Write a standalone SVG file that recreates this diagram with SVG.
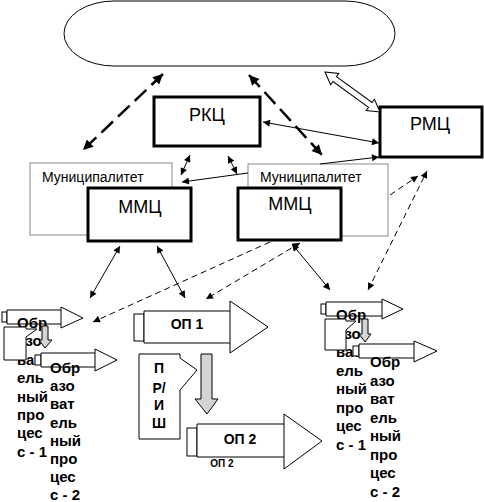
<svg xmlns="http://www.w3.org/2000/svg" width="484" height="502" viewBox="0 0 484 502">
<style>
text{font-family:"Liberation Sans",Arial,sans-serif;fill:#000}
.box{fill:#fff;stroke:#000;stroke-width:3}
.muni{fill:#fff;stroke:#888;stroke-width:1}
.lbl{font-size:18px}
.mlbl{font-size:14px}
.b{font-weight:bold}
.proc{font-size:15px;font-weight:bold}
.blk{fill:#fff;stroke:#000;stroke-width:1}
.gray{fill:#d4d4d4;stroke:#000;stroke-width:1}
.ln{fill:none;stroke:#000;stroke-width:1}
.dash{fill:none;stroke:#000;stroke-width:1;stroke-dasharray:6 4}
.thick{fill:none;stroke:#000;stroke-width:2.5;stroke-dasharray:16 7}
</style>
<defs>
<marker id="a" viewBox="0 0 10 10" refX="10" refY="5" markerWidth="9" markerHeight="7" markerUnits="userSpaceOnUse" orient="auto-start-reverse"><path d="M0,0 L10,5 L0,10 z" fill="#000"/></marker>
<marker id="A" viewBox="0 0 10 10" refX="10" refY="5" markerWidth="13" markerHeight="10" markerUnits="userSpaceOnUse" orient="auto-start-reverse"><path d="M0,0 L10,5 L0,10 z" fill="#000"/></marker>
</defs>

<g id="top-ellipse">
<rect x="64" y="1" width="331" height="65" rx="50" ry="32.5" fill="#fff" stroke="#000" stroke-width="1"/>
</g>

<g id="muni-left">
<rect class="muni" x="30" y="163" width="142" height="72"/>
<text class="mlbl" x="42" y="182">Муниципалитет</text>
</g>
<g id="muni-right">
<rect class="muni" x="248" y="164" width="140" height="72"/>
<text class="mlbl" x="260" y="182">Муниципалитет</text>
</g>
<g id="mmc-left">
<rect class="box" x="88" y="188" width="103" height="53"/>
<text class="lbl" x="140" y="213" text-anchor="middle">ММЦ</text>
</g>
<g id="mmc-right">
<rect class="box" x="238" y="188" width="103" height="52"/>
<text class="lbl" x="290" y="210" text-anchor="middle">ММЦ</text>
</g>
<g id="rkc">
<rect class="box" x="154" y="97" width="106" height="49"/>
<text class="lbl" x="207" y="121" text-anchor="middle">РКЦ</text>
</g>
<g id="rmc">
<rect class="box" x="380" y="107" width="102" height="50"/>
<text class="lbl" x="430" y="130" text-anchor="middle">РМЦ</text>
</g>

<g id="connectors">
<line class="thick" x1="163" y1="74" x2="83" y2="150" marker-start="url(#A)" marker-end="url(#A)"/>
<line class="thick" x1="249" y1="75" x2="322" y2="155" marker-start="url(#A)" marker-end="url(#A)"/>
<polygon transform="translate(325,72) rotate(36)" points="0,0 12,-7 12,-3 56,-3 56,-7 68,0 56,7 56,3 12,3 12,7" fill="#fff" stroke="#000" stroke-width="1"/>
<line class="ln" x1="263" y1="122" x2="379" y2="143" marker-start="url(#a)" marker-end="url(#a)"/>
<line class="ln" x1="320" y1="164" x2="379" y2="157" marker-end="url(#a)"/>
<line class="ln" x1="190" y1="155" x2="181" y2="175" marker-start="url(#a)" marker-end="url(#a)"/>
<line class="ln" x1="228" y1="156" x2="237" y2="174" marker-start="url(#a)" marker-end="url(#a)"/>
<line class="ln" x1="248" y1="173" x2="182" y2="182" marker-end="url(#a)"/>
<line class="dash" x1="390" y1="195" x2="418" y2="176" marker-end="url(#a)"/>
<line class="dash" x1="368" y1="290" x2="427" y2="171" marker-start="url(#a)" marker-end="url(#a)"/>
<line class="ln" x1="120" y1="246" x2="90" y2="298" marker-start="url(#a)" marker-end="url(#a)"/>
<line class="ln" x1="157" y1="246" x2="185" y2="298" marker-start="url(#a)" marker-end="url(#a)"/>
<line class="dash" x1="270" y1="242" x2="93" y2="322" marker-end="url(#a)"/>
<line class="dash" x1="300" y1="243" x2="206" y2="299" marker-start="url(#a)" marker-end="url(#a)"/>
<line class="ln" x1="292" y1="244" x2="330" y2="290" marker-start="url(#a)" marker-end="url(#a)"/>
</g>

<g id="op1">
<rect class="blk" x="134" y="314" width="10" height="27"/>
<polygon class="blk" points="144,311 230,311 230,301 268,327 230,353 230,343 144,343"/>
<line class="ln" x1="230" y1="311" x2="230" y2="343"/>
<text class="b" x="187" y="329" font-size="14" text-anchor="middle">ОП 1</text>
</g>
<g id="prish">
<polygon class="blk" points="139,354 180,354 180,358 197,370 180,390 180,439 139,439"/>
<text class="b" font-size="14" text-anchor="middle"><tspan x="159" y="373">П</tspan><tspan x="159" y="393">Р/</tspan><tspan x="159" y="410">И</tspan><tspan x="159" y="428">Ш</tspan></text>
</g>
<g id="down-arrow">
<polygon class="gray" points="201,354 212,354 212,399 218,399 207,414 195,399 201,399"/>
</g>
<g id="op2">
<rect class="blk" x="187" y="428" width="10" height="28"/>
<polygon class="blk" points="197,424 284,424 284,414 322,441 284,469 284,457 197,457"/>
<line class="ln" x1="284" y1="424" x2="284" y2="457"/>
<text class="b" x="240" y="444" font-size="14" text-anchor="middle">ОП 2</text>
<text class="b" x="222" y="467" font-size="10" text-anchor="middle">ОП 2</text>
</g>

<g id="process-left">
<rect class="blk" x="2" y="312" width="5" height="10"/>
<polygon class="blk" points="7,310 61,310 61,307 83,318 61,328 61,324 7,324"/>
<line class="ln" x1="61" y1="310" x2="61" y2="324"/>
<text class="proc"><tspan x="17" y="328">Обр</tspan><tspan x="17" y="346.4">азо</tspan><tspan x="17" y="364.8">ват</tspan><tspan x="17" y="383.2">ель</tspan><tspan x="17" y="401.6">ный</tspan><tspan x="17" y="420">про</tspan><tspan x="17" y="438.4">цес</tspan><tspan x="17" y="456.8">с - 1</tspan></text>
<polygon class="blk" points="4,327 26,327 26,329 37,329 26,337 26,360 4,360"/>
<polygon class="gray" points="42,326 48,326 48,340 52,340 45,348 39,340 42,340"/>
<rect class="blk" x="35" y="355" width="6" height="10"/>
<polygon class="blk" points="41,353 95,353 95,349 117,360 95,371 95,367 41,367"/>
<line class="ln" x1="95" y1="353" x2="95" y2="367"/>
<text class="proc"><tspan x="50" y="373">Обр</tspan><tspan x="50" y="391.2">азо</tspan><tspan x="50" y="409.4">ват</tspan><tspan x="50" y="427.6">ель</tspan><tspan x="50" y="445.8">ный</tspan><tspan x="50" y="464">про</tspan><tspan x="50" y="482.2">цес</tspan><tspan x="50" y="500.4">с - 2</tspan></text>
</g>

<g id="process-right">
<rect class="blk" x="321" y="304" width="5" height="10"/>
<polygon class="blk" points="326,302 382,302 382,299 403,309 382,319 382,316 326,316"/>
<line class="ln" x1="382" y1="302" x2="382" y2="316"/>
<text class="proc"><tspan x="336" y="320">Обр</tspan><tspan x="336" y="338.5">азо</tspan><tspan x="336" y="357">ват</tspan><tspan x="336" y="375.5">ель</tspan><tspan x="336" y="394">ный</tspan><tspan x="336" y="412.5">про</tspan><tspan x="336" y="431">цес</tspan><tspan x="336" y="449.5">с - 1</tspan></text>
<polygon class="blk" points="325,319 346,319 346,321 356,321 346,330 346,350 325,350"/>
<polygon class="gray" points="362,319 368,319 368,334 371,334 365,342 359,334 362,334"/>
<rect class="blk" x="353" y="346" width="6" height="10"/>
<polygon class="blk" points="359,344 414,344 414,341 437,351 414,362 414,358 359,358"/>
<line class="ln" x1="414" y1="344" x2="414" y2="358"/>
<text class="proc"><tspan x="370" y="367">Обр</tspan><tspan x="370" y="385.5">азо</tspan><tspan x="370" y="404">ват</tspan><tspan x="370" y="422.5">ель</tspan><tspan x="370" y="441">ный</tspan><tspan x="370" y="459.5">про</tspan><tspan x="370" y="478">цес</tspan><tspan x="370" y="496.5">с - 2</tspan></text>
</g>
</svg>
